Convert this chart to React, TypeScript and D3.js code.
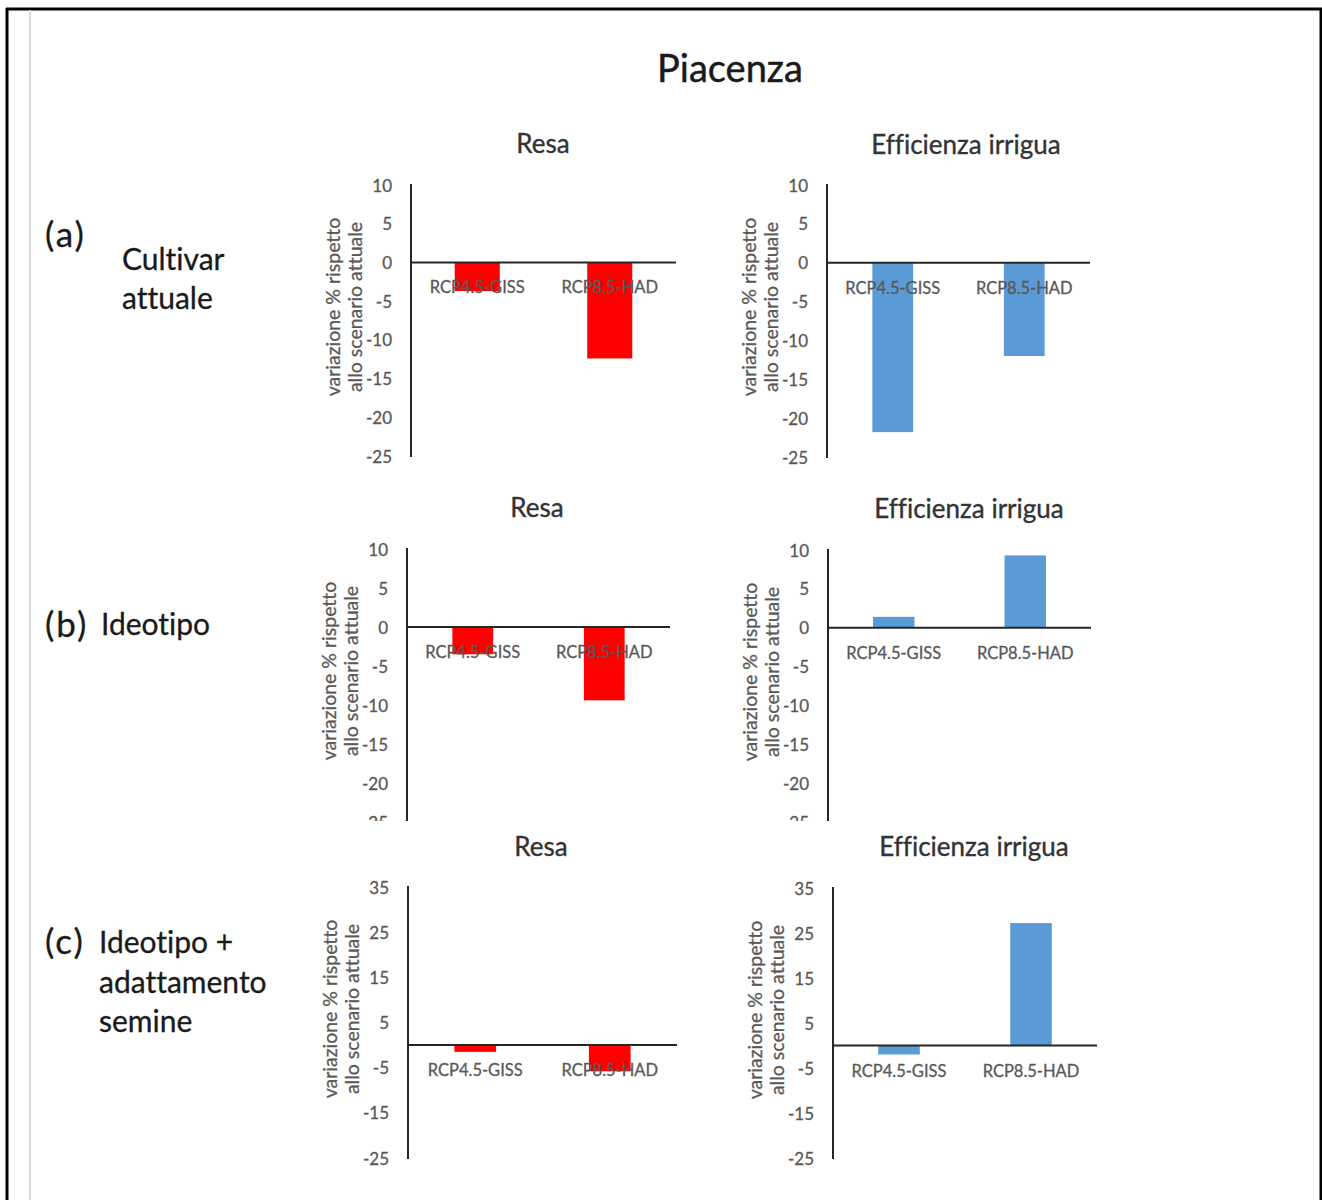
import React from 'react';
import * as d3 from 'd3';

// Scenario categories on every x axis
const categories = ['RCP4.5-GISS', 'RCP8.5-HAD'];

// % change relative to the current scenario
const resaCultivar = [-3.7, -12.4];
const efficienzaCultivar = [-21.8, -12.0];
const resaIdeotipo = [-3.5, -9.4];
const efficienzaIdeotipo = [1.4, 9.3];
const resaAdattamento = [-1.5, -5.8];
const efficienzaAdattamento = [-2.0, 27.2];

// Axis ticks and domains
const ticksStep5 = [10, 5, 0, -5, -10, -15, -20, -25];
const ticksStep10 = [35, 25, 15, 5, -5, -15, -25];
const domainStep5: [number, number] = [-25, 10];
const domainStep10: [number, number] = [-25, 35];

const panelTitles = ['Resa', 'Efficienza irrigua'];
const yTitleLines = ['variazione % rispetto', 'allo scenario attuale'];
const mainTitle = 'Piacenza';

const RED = '#FF0000';
const BLUE = '#5B9BD5';
const FONT = 'Lato, "Open Sans", sans-serif';
const AXIS = '#262626';
const TICK_TEXT = '#595959';

// shared text styling: no ligatures, slightly heavier strokes
const textStyle = (fill: string, weight = 0.3, spacing = 0): React.CSSProperties => ({
  fontVariantLigatures: 'none',
  fontFeatureSettings: '"liga" 0',
  stroke: fill,
  strokeWidth: weight,
  letterSpacing: spacing,
});

type PanelProps = {
  x0: number;
  xR: number;
  yTop: number;
  yBot: number;
  values: number[];
  ticks: number[];
  domain: [number, number];
  color: string;
  barFraction: number;
  title: string;
  titleX: number;
  titleY: number;
};

function Panel(p: PanelProps) {
  const y = d3.scaleLinear().domain(p.domain).range([p.yBot, p.yTop]);
  const x = d3.scaleBand<string>().domain(categories).range([p.x0, p.xR]).padding(0);
  const bw = x.bandwidth() * p.barFraction;
  const y0 = y(0);
  const titleCenterY = p.yTop + 122;
  return (
    <g>
      <text x={p.titleX} y={p.titleY} textAnchor="middle" dominantBaseline="central"
        fontFamily={FONT} fontSize={26} fill="#333333" style={textStyle('#333333', 0.35)}>{p.title}</text>
      {p.values.map((v, i) => {
        const cx = (x(categories[i]) as number) + x.bandwidth() / 2;
        return (
          <rect key={i} x={cx - bw / 2} y={Math.min(y(v), y0)} width={bw}
            height={Math.abs(y(v) - y0)} fill={p.color} />
        );
      })}
      {p.ticks.map((t) => (
        <text key={t} x={p.x0 - 19} y={y(t)} textAnchor="end" dominantBaseline="central"
          fontFamily={FONT} fontSize={17} fill={TICK_TEXT} style={textStyle(TICK_TEXT)}>{t}</text>
      ))}
      <line x1={p.x0} x2={p.x0} y1={y(p.domain[1]) - 1} y2={y(p.domain[0]) + 1}
        stroke={AXIS} strokeWidth={2} />
      <line x1={p.x0} x2={p.xR} y1={y0} y2={y0} stroke={AXIS} strokeWidth={2} />
      {categories.map((c) => (
        <text key={c} x={(x(c) as number) + x.bandwidth() / 2} y={y0 + 25}
          textAnchor="middle" dominantBaseline="central" fontFamily={FONT}
          fontSize={16.5} fill={TICK_TEXT} style={textStyle(TICK_TEXT)}>{c}</text>
      ))}
      {yTitleLines.map((line, i) => (
        <text key={line} transform={`translate(${p.x0 - 79 + i * 22},${titleCenterY}) rotate(-90)`}
          textAnchor="middle" dominantBaseline="central" fontFamily={FONT}
          fontSize={19.5} fill={TICK_TEXT} style={textStyle(TICK_TEXT)}>{line}</text>
      ))}
    </g>
  );
}

function RowLabel({ x, y, text, size, spacing = 0 }:
  { x: number; y: number; text: string; size: number; spacing?: number }) {
  return (
    <text x={x} y={y} dominantBaseline="central" fontFamily={FONT} fontSize={size} fill="#1a1a1a"
      style={textStyle('#1a1a1a', 0.3, spacing)}>
      {text}
    </text>
  );
}

export default function App() {
  return (
    <svg width={1322} height={1200} style={{ position: 'absolute', left: 0, top: 0, display: 'block' }}
      xmlns="http://www.w3.org/2000/svg">
      <rect x={0} y={0} width={1322} height={1200} fill="#ffffff" />
      <defs>
        <clipPath id="row-b-clip">
          <rect x={0} y={0} width={1322} height={821} />
        </clipPath>
      </defs>

      {/* page frame */}
      <line x1={7} x2={7} y1={8} y2={1200} stroke="#000" strokeWidth={3} />
      <line x1={6} x2={1322} y1={9} y2={9} stroke="#000" strokeWidth={3} />
      <line x1={1321} x2={1321} y1={8} y2={1200} stroke="#000" strokeWidth={3} />
      <line x1={30} x2={30} y1={10} y2={1200} stroke="#d9d9d9" strokeWidth={2} />

      <text x={730} y={67} textAnchor="middle" dominantBaseline="central" fontFamily={FONT}
        fontSize={38} fill="#1a1a1a" style={textStyle('#1a1a1a', 0.45)}>{mainTitle}</text>

      {/* (a) current cultivar */}
      <RowLabel x={45} y={233} text="(a)" size={35} spacing={2} />
      <RowLabel x={122} y={258} text="Cultivar" size={30} />
      <RowLabel x={122} y={297} text="attuale" size={30} />
      <Panel x0={411} xR={676} yTop={185} yBot={456} values={resaCultivar} ticks={ticksStep5}
        domain={domainStep5} color={RED} barFraction={0.34} title={panelTitles[0]} titleX={543} titleY={143} />
      <Panel x0={827} xR={1090} yTop={185} yBot={457} values={efficienzaCultivar} ticks={ticksStep5}
        domain={domainStep5} color={BLUE} barFraction={0.31} title={panelTitles[1]} titleX={966} titleY={144} />

      {/* (b) ideotype */}
      <RowLabel x={45} y={623} text="(b)" size={35} spacing={2} />
      <RowLabel x={101} y={623} text="Ideotipo" size={30} />
      <g clipPath="url(#row-b-clip)">
        <Panel x0={407} xR={670} yTop={549} yBot={822} values={resaIdeotipo} ticks={ticksStep5}
          domain={domainStep5} color={RED} barFraction={0.31} title={panelTitles[0]} titleX={537} titleY={507} />
        <Panel x0={828} xR={1091} yTop={550} yBot={822} values={efficienzaIdeotipo} ticks={ticksStep5}
          domain={domainStep5} color={BLUE} barFraction={0.315} title={panelTitles[1]} titleX={969} titleY={508} />
      </g>

      {/* (c) ideotype + sowing adaptation */}
      <RowLabel x={45} y={940} text="(c)" size={35} spacing={2} />
      <RowLabel x={99} y={941} text="Ideotipo +" size={30} />
      <RowLabel x={99} y={981} text="adattamento" size={30} />
      <RowLabel x={99} y={1020} text="semine" size={30} />
      <Panel x0={408} xR={677} yTop={887} yBot={1158} values={resaAdattamento} ticks={ticksStep10}
        domain={domainStep10} color={RED} barFraction={0.31} title={panelTitles[0]} titleX={541} titleY={846} />
      <Panel x0={833} xR={1097} yTop={888} yBot={1158} values={efficienzaAdattamento} ticks={ticksStep10}
        domain={domainStep10} color={BLUE} barFraction={0.315} title={panelTitles[1]} titleX={974} titleY={846} />
    </svg>
  );
}
